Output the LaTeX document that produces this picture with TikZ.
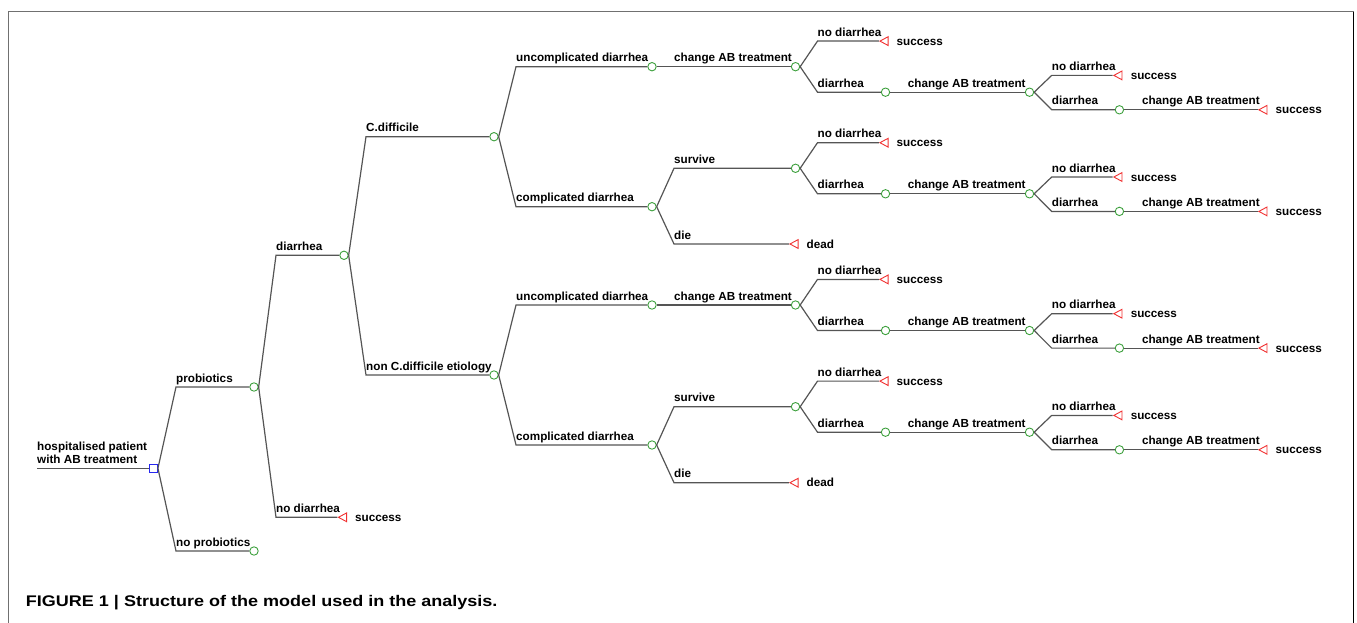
\documentclass[tikz,border=0pt]{standalone}
\usepackage{fontspec}
\setmainfont{Liberation Sans}
\newfontfamily\capfont[FakeStretch=1.17]{Liberation Sans}
\usetikzlibrary{shapes.geometric}
\definecolor{lgray}{HTML}{555555}
\definecolor{fgray}{HTML}{707070}
\definecolor{cgreen}{HTML}{3DA03D}
\definecolor{tred}{HTML}{F03030}
\definecolor{dblue}{HTML}{2828F0}
\tikzset{
  edge/.style={draw=lgray, line width=1.2pt},
  chance/.style={circle, draw=cgreen, line width=0.9pt, minimum size=8.4pt, inner sep=0pt},
  term/.style={isosceles triangle, isosceles triangle stretches, shape border rotate=180,
    draw=tred, line width=0.9pt, minimum width=8.8pt, minimum height=8.2pt, inner sep=0pt},
  dec/.style={rectangle, draw=dblue, line width=1pt, minimum size=7.5pt, inner sep=0pt},
  lab/.style={anchor=base west, inner sep=0pt, font=\fontsize{11.7}{13.3}\selectfont\bfseries},
  caption/.style={anchor=base west, inner sep=0pt, font=\capfont\fontsize{15.4}{18}\selectfont\bfseries},
  frameline/.style={draw=fgray, line width=1.2pt},
}
% subtree below a chance node #2 (prefix #1) at (795.5,#3)
\newcommand\subtreeR[3]{%
  \pgfmathsetmacro\ya{#3-25.6}%
  \pgfmathsetmacro\yb{#3+25.5}%
  \pgfmathsetmacro\yc{\yb-16.8}%
  \pgfmathsetmacro\yd{\yb+17.6}%
  % no diarrhea -> success
  \coordinate (#1b1) at (817.5,\ya);
  \node[term] (#1t1) at (885.5,\ya) {};
  \draw[edge] (#2.east) -- (#1b1) -- (#1t1.apex);
  \node[lab] (#1l1) at (817.5,\ya-5) {no diarrhea};
  \node[lab] (#1s1) at (896.5,\ya+4) {success};
  % diarrhea -> chance
  \coordinate (#1b2) at (817.5,\yb);
  \node[chance] (#1c2) at (885.5,\yb) {};
  \draw[edge] (#2.east) -- (#1b2) -- (#1c2.west);
  \node[lab] (#1l2) at (817.5,\yb-5) {diarrhea};
  % change AB treatment
  \node[chance] (#1c3) at (1029.5,\yb) {};
  \draw[edge] (#1c2.east) -- (#1c3.west);
  \node[lab] (#1l3) at (907.7,\yb-5) {change AB treatment};
  % second level no diarrhea
  \coordinate (#1b4) at (1051.7,\yc);
  \node[term] (#1t4) at (1119.4,\yc) {};
  \draw[edge] (#1c3.east) -- (#1b4) -- (#1t4.apex);
  \node[lab] (#1l4) at (1051.7,\yc-5) {no diarrhea};
  \node[lab] (#1s4) at (1130.6,\yc+4) {success};
  % second level diarrhea
  \coordinate (#1b5) at (1051.7,\yd);
  \node[chance] (#1c5) at (1119.4,\yd) {};
  \draw[edge] (#1c3.east) -- (#1b5) -- (#1c5.west);
  \node[lab] (#1l5) at (1051.7,\yd-5) {diarrhea};
  \node[term] (#1t6) at (1264.4,\yd) {};
  \draw[edge] (#1c5.east) -- (#1t6.apex);
  \node[lab] (#1l6) at (1141.8,\yd-5) {change AB treatment};
  \node[lab] (#1s6) at (1275.4,\yd+4) {success};
}
\begin{document}
\begin{tikzpicture}[x=1pt,y=-1pt]
\useasboundingbox (0,0) rectangle (1357,623);
% frame
\coordinate (fa) at (8.3,623);
\coordinate (fb) at (8.3,11.7);
\coordinate (fc) at (1353.6,11.7);
\coordinate (fd) at (1353.6,623);
\draw[frameline] (fa) -- (fb) -- (fc);
\draw[draw=black, line width=1.5pt] (fc) -- (fd);
% root
\node[dec] (R) at (153.7,468.3) {};
\coordinate (r0) at (37,468.3);
\draw[edge] (r0) -- (R.west);
\node[lab, align=left] (rl) at (37,463.3) {hospitalised patient\\with AB treatment};
% level 1
\node[chance] (P) at (254,387) {};
\coordinate (bP) at (176,387);
\draw[edge] (R.east) -- (bP) -- (P.west);
\node[lab] (lP) at (176,382) {probiotics};
\node[chance] (NP) at (254,551) {};
\coordinate (bNP) at (176,551);
\draw[edge] (R.east) -- (bNP) -- (NP.west);
\node[lab] (lNP) at (176,546) {no probiotics};
% level 2
\node[chance] (D) at (344,255.3) {};
\coordinate (bD) at (276,255.3);
\draw[edge] (P.east) -- (bD) -- (D.west);
\node[lab] (lD) at (276,250.3) {diarrhea};
\node[term] (ND) at (344,517.3) {};
\coordinate (bND) at (276,517.3);
\draw[edge] (P.east) -- (bND) -- (ND.apex);
\node[lab] (lND) at (276,512.3) {no diarrhea};
\node[lab] (sND) at (355,521.3) {success};
% level 3
\node[chance] (C) at (494,136.7) {};
\coordinate (bC) at (366,136.7);
\draw[edge] (D.east) -- (bC) -- (C.west);
\node[lab] (lC) at (366,131.7) {C.difficile};
\node[chance] (N) at (494,375) {};
\coordinate (bN) at (366,375);
\draw[edge] (D.east) -- (bN) -- (N.west);
\node[lab] (lN) at (366,370) {non C.difficile etiology};
% level 4
\node[chance] (CU) at (652,66.7) {};
\coordinate (bCU) at (516,66.7);
\draw[edge] (C.east) -- (bCU) -- (CU.west);
\node[lab] (lCU) at (516,61.7) {uncomplicated diarrhea};
\node[chance] (CC) at (652,206.7) {};
\coordinate (bCC) at (516,206.7);
\draw[edge] (C.east) -- (bCC) -- (CC.west);
\node[lab] (lCC) at (516,201.7) {complicated diarrhea};
\node[chance] (NU) at (652,305) {};
\coordinate (bNU) at (516,305);
\draw[edge] (N.east) -- (bNU) -- (NU.west);
\node[lab] (lNU) at (516,300) {uncomplicated diarrhea};
\node[chance] (NC) at (652,445) {};
\coordinate (bNC) at (516,445);
\draw[edge] (N.east) -- (bNC) -- (NC.west);
\node[lab] (lNC) at (516,440) {complicated diarrhea};
% level 5
\node[chance] (CUa) at (795.5,66.7) {};
\draw[edge] (CU.east) -- (CUa.west);
\node[lab] (lCUa) at (674,61.7) {change AB treatment};
\node[chance] (CS) at (795.5,168.3) {};
\coordinate (bCS) at (674,168.3);
\draw[edge] (CC.east) -- (bCS) -- (CS.west);
\node[lab] (lCS) at (674,163.3) {survive};
\node[term] (CD) at (795.5,244) {};
\coordinate (bCD) at (674,244);
\draw[edge] (CC.east) -- (bCD) -- (CD.apex);
\node[lab] (lCD) at (674,239) {die};
\node[lab] (dCD) at (806.5,248) {dead};
\node[chance] (NUa) at (795.5,305) {};
\draw[edge] (NU.east) -- (NUa.west);
\node[lab] (lNUa) at (674,300) {change AB treatment};
\node[chance] (NS) at (795.5,406.7) {};
\coordinate (bNS) at (674,406.7);
\draw[edge] (NC.east) -- (bNS) -- (NS.west);
\node[lab] (lNS) at (674,401.7) {survive};
\node[term] (NDd) at (795.5,482.7) {};
\coordinate (bNDd) at (674,482.7);
\draw[edge] (NC.east) -- (bNDd) -- (NDd.apex);
\node[lab] (lNDd) at (674,477.7) {die};
\node[lab] (dNDd) at (806.5,486.7) {dead};
% levels 6-8
\subtreeR{ca}{CUa}{66.7}
\subtreeR{cs}{CS}{168.3}
\subtreeR{na}{NUa}{305}
\subtreeR{ns}{NS}{406.7}
% caption
\node[caption] (cap) at (25.7,606) {FIGURE 1 | Structure of the model used in the analysis.};
\end{tikzpicture}
\end{document}
